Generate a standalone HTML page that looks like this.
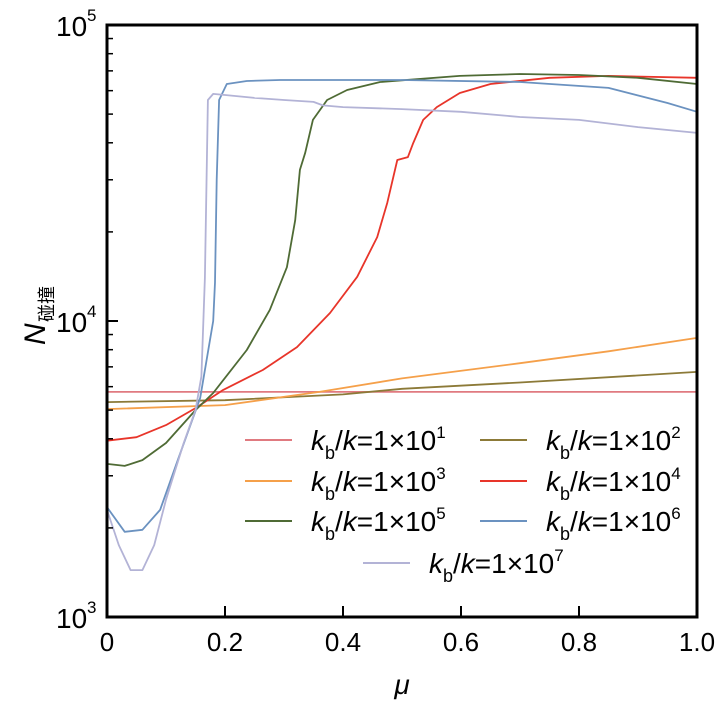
<!DOCTYPE html>
<html><head><meta charset="utf-8">
<style>
html,body{margin:0;padding:0;background:#fff;}
svg{display:block;font-family:"Liberation Sans","Noto Sans CJK SC",sans-serif;}
</style></head>
<body>
<svg id="chart" width="723" height="702" viewBox="0 0 723 702" xmlns="http://www.w3.org/2000/svg">
<g id="series"></g>
<rect x="107" y="25" width="590" height="592" fill="none" stroke="#000" stroke-width="3"/>
<g id="axes"></g>
<g id="legend"></g>
<text x="402" y="694" font-size="28" font-style="italic" text-anchor="middle">μ</text>
<g transform="translate(45,345) rotate(-90)">
<text x="0" y="0" font-size="30" font-style="italic">N</text>
<text x="23" y="8" font-size="18" font-family="'Noto Sans CJK SC',sans-serif">碰撞</text>
</g>
</svg>
<script>
const xTicks=[0,0.2,0.4,0.6,0.8,1.0];
const xTickLabels=["0","0.2","0.4","0.6","0.8","1.0"];
const yDecades=[3,4,5];
const seriesNames=["k1","k2","k3","k4","k5","k6","k7"];
const seriesColors=["#e07a80","#8c7a38","#f5a04a","#e8352a","#4f6b35","#6b92c0","#b3b3d6"];
const legendExp=["1","2","3","4","5","6","7"];
const muK1=[0,1];
const nK1=[5760,5760];
const muK2=[0,0.2,0.4,0.5,0.7,1.0];
const nK2=[5320,5400,5650,5900,6200,6730];
const muK3=[0,0.2,0.36,0.5,0.7,0.85,1.0];
const nK3=[5040,5200,5760,6400,7200,7900,8770];
const muK4=[0,0.05,0.1,0.15,0.197,0.264,0.322,0.378,0.424,0.458,0.475,0.492,0.51,0.519,0.536,0.559,0.598,0.65,0.75,0.85,1.0];
const nK4=[3940,4050,4450,5080,5850,6830,8160,10640,14100,19200,25100,35000,35800,39900,47800,52800,58900,63200,66300,67300,66300];
const muK5=[0,0.03,0.06,0.1,0.15,0.18,0.237,0.276,0.305,0.319,0.327,0.336,0.349,0.373,0.407,0.463,0.598,0.7,0.8,0.9,1.0];
const nK5=[3290,3240,3390,3870,5000,5710,7980,10900,15200,21900,32400,37000,47800,55800,60300,64200,67300,68300,67800,66300,63200];
const muK6=[0,0.03,0.06,0.09,0.12,0.158,0.18,0.183,0.186,0.19,0.203,0.237,0.293,0.5,0.7,0.85,0.95,1.0];
const nK6=[2350,1940,1970,2300,3390,5500,10000,13500,30000,55800,63200,64700,65200,65200,64200,61300,54500,50900];
const muK7=[0,0.02,0.04,0.06,0.08,0.1,0.13,0.15,0.16,0.166,0.171,0.18,0.2,0.25,0.3,0.35,0.366,0.4,0.5,0.6,0.7,0.8,0.9,1.0];
const nK7=[2300,1750,1440,1440,1750,2490,3870,5000,6500,14000,55800,58500,58000,56700,55800,55000,53500,52800,52000,50900,48900,47800,45200,43200];
const muArr=[muK1,muK2,muK3,muK4,muK5,muK6,muK7];
const nArr=[nK1,nK2,nK3,nK4,nK5,nK6,nK7];

const NS="http://www.w3.org/2000/svg";
const X0=107,X1=697,YT=25,YB=617;
function xs(m){return X0+(X1-X0)*m;}
function ys(n){return YB-(Math.log10(n)-3)/2*(YB-YT);}
function mk(t,a,p){const e=document.createElementNS(NS,t);for(const k in a)e.setAttribute(k,a[k]);p.appendChild(e);return e;}

const sg=document.getElementById('series');
for(let i=0;i<7;i++){
  const pts=muArr[i].map((m,j)=>xs(m).toFixed(1)+','+ys(nArr[i][j]).toFixed(1)).join(' ');
  const pl=mk('polyline',{points:pts,fill:'none',stroke:seriesColors[i],'stroke-width':1.8,'stroke-linejoin':'round'},sg);
  
  
}
const ax=document.getElementById('axes');
xTicks.forEach((t,i)=>{
  if(i>0&&i<xTicks.length-1){
    const l=mk('line',{x1:xs(t),x2:xs(t),y1:YB,y2:YB-11,stroke:'#000','stroke-width':2},ax);
    
    
  }
  const tx=mk('text',{x:xs(t),y:651,'font-size':26,'text-anchor':'middle'},ax);
  tx.textContent=xTickLabels[i];
  
  
});
yDecades.forEach((d,i)=>{
  const y=ys(Math.pow(10,d));
  if(i>0&&i<yDecades.length-1){
    const l=mk('line',{x1:X0,x2:X0+11,y1:y,y2:y,stroke:'#000','stroke-width':2},ax);
    
    
  }
  const tx=mk('text',{x:56,y:y+11,'font-size':28},ax);
  tx.textContent='10';
  
  
  const sp=mk('text',{x:87,y:y-4,'font-size':17},ax);
  sp.textContent=String(d);
  
  
  if(i<yDecades.length-1){
    for(let k=2;k<=9;k++){
      const yy=ys(k*Math.pow(10,d));
      const m=mk('line',{x1:X0,x2:X0+6,y1:yy,y2:yy,stroke:'#000','stroke-width':1.5},ax);
      
      
    }
  }
});
const lg=document.getElementById('legend');
const pos=[[245,440],[480,440],[245,481],[480,481],[245,521],[480,521],[363,563]];
for(let i=0;i<7;i++){
  const [lx,ly]=pos[i];
  const g=mk('g',{},lg);
  
  
  mk('line',{x1:lx,x2:lx+47,y1:ly,y2:ly,stroke:seriesColors[i],'stroke-width':2},g);
  const t=mk('text',{x:lx+66,y:ly+10,'font-size':28},g);
  t.innerHTML='<tspan font-style="italic">k</tspan><tspan font-size="18" dy="9">b</tspan><tspan dy="-9">/</tspan><tspan font-style="italic">k</tspan>=1×10<tspan font-size="17" dy="-12">'+legendExp[i]+'</tspan>';
}
</script>
</body></html>
